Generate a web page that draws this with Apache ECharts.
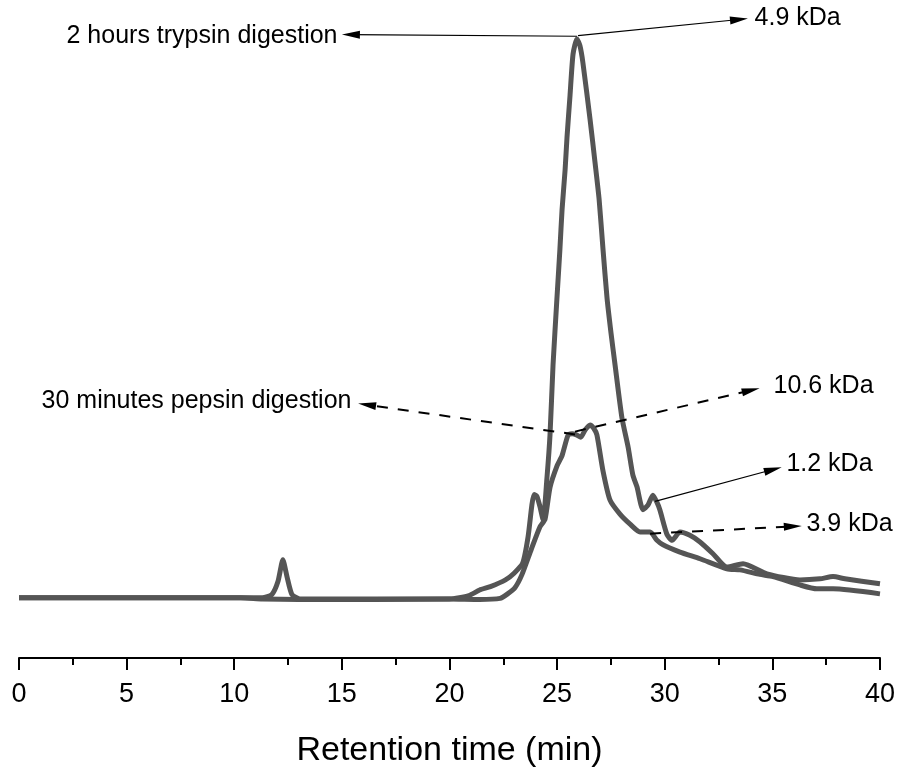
<!DOCTYPE html>
<html>
<head>
<meta charset="utf-8">
<script src="https://cdn.jsdelivr.net/npm/echarts@6/dist/echarts.min.js"></script>
<style>
  html, body { margin: 0; padding: 0; background: #fff; }
  #chart { width: 898px; height: 773px; }
</style>
</head>
<body>
<div id="chart"></div>
<script>
// retention time (min) / detector response (arbitrary units)
var trypsinTime = [0, 10.3, 11.3, 13.0, 20.0, 20.9, 21.4, 21.9, 22.6, 23.0, 23.4, 23.65, 23.83, 23.93, 24.06, 24.2, 24.35,
  24.53, 24.67, 24.81, 24.99, 25.13, 25.23, 25.37, 25.46, 25.6, 25.74, 25.92, 26.06, 26.2, 26.53, 26.76, 26.95,
  27.13, 27.32, 27.5, 27.69, 28.01, 28.3, 28.52, 28.71, 28.99, 29.22, 29.45, 29.64, 29.78, 30.1, 30.34, 30.71, 31.17,
  31.64, 32.24, 32.89, 33.64, 34.75, 36.28, 37.21, 37.82, 38.37, 40];
var trypsinSignal = [-0.2, -0.2, -0.4, -0.5, -0.4, 0.2, 1.2, 1.8, 3.0, 4.2, 6.0, 10.7, 16.5, 18.3, 18.0, 16.2, 13.8,
  21.4, 29.0, 41.5, 53.4, 62.3, 69.4, 76.5, 82.4, 89.9, 97.3, 100, 98.8, 95.7, 85.6, 77.9, 71.3,
  62.4, 53.5, 47.4, 41.6, 32.1, 26.8, 21.8, 19.7, 15.6, 16.4, 18.2, 16.9, 15.5, 11.2, 10.1, 11.6, 11.0,
  9.8, 7.7, 5.3, 5.9, 4.1, 3.0, 3.2, 3.6, 3.2, 2.3];

var pepsinTime = [0, 11.3, 11.75, 12.03, 12.26, 12.45, 12.68, 13.05, 20.0, 21.4, 22.35, 22.7, 23.04, 23.37, 23.8, 24.2,
  24.44, 24.67, 25.0, 25.23, 25.51, 25.7, 25.9, 26.1, 26.3, 26.53, 26.7, 26.85, 27.13, 27.46, 27.92, 28.39, 28.85,
  29.32, 29.64, 29.92, 30.71, 31.64, 32.89, 33.5, 34.42, 35.03, 36.28, 37.07, 37.82, 40];
var pepsinSignal = [-0.2, -0.2, 0.4, 2.7, 6.6, 3.6, 0.4, -0.4, -0.4, -0.5, -0.3, 0.5, 1.6, 4.0, 8.5, 12.5,
  13.9, 19.6, 23.5, 25.3, 29.0, 29.2, 29.0, 28.6, 29.9, 30.8, 30.2, 29.0, 22.6, 17.3, 14.8, 13.0, 11.6,
  11.6, 10.1, 9.3, 8.0, 6.8, 5.0, 4.8, 4.0, 3.6, 2.1, 1.4, 1.4, 0.5];

var xTicks = [0, 5, 10, 15, 20, 25, 30, 35, 40];

function pairs(xs, ys) {
  return xs.map(function (x, i) { return [x, ys[i]]; });
}

function arrow(from, to, dashed) {
  return [
    { coord: from, lineStyle: { type: dashed ? [11, 10] : 'solid', width: dashed ? 2 : 1.2 } },
    { coord: to }
  ];
}

function note(text, at, side) {
  return {
    coord: at,
    label: { show: true, formatter: text, position: side, distance: 0 }
  };
}

var chart = echarts.init(document.getElementById('chart'));

var option = {
  backgroundColor: '#fff',
  animation: false,
  grid: { left: 19, right: 18, top: 0, bottom: 111 },
  xAxis: {
    type: 'value',
    min: 0,
    max: 40,
    interval: 5,
    name: 'Retention time (min)',
    nameLocation: 'middle',
    nameGap: 76,
    nameTextStyle: { fontSize: 34, color: '#000', fontFamily: 'Liberation Sans, Arial, sans-serif' },
    axisLine: { onZero: false, lineStyle: { color: '#000', width: 2 } },
    axisTick: { length: 12, lineStyle: { color: '#000', width: 2 } },
    minorTick: { show: true, splitNumber: 2, length: 7, lineStyle: { color: '#000', width: 2 } },
    splitLine: { show: false },
    axisLabel: {
      fontSize: 27, color: '#000', margin: 23, fontFamily: 'Liberation Sans, Arial, sans-serif',
      formatter: function (v) { return xTicks.indexOf(v) >= 0 ? String(v) : ''; }
    }
  },
  yAxis: { type: 'value', min: -11, max: 107, show: false },
  series: [
    {
      name: '2 hours trypsin digestion',
      type: 'line',
      data: pairs(trypsinTime, trypsinSignal),
      smooth: 0.2,
      symbol: 'none',
      lineStyle: { color: '#555', width: 5, join: 'round' },
      z: 2,
      markLine: {
        silent: true,
        symbol: ['none', 'triangle'],
        symbolSize: [8, 18],
        label: { show: false },
        lineStyle: { color: '#000' },
        data: [
          arrow([25.92, 100.5], [15.42, 100.8], false),
          arrow([25.97, 100.6], [33.45, 103.5], false),
          arrow([29.55, 17.1], [35.03, 22.8], false)
        ]
      },
      markPoint: {
        silent: true,
        symbol: 'circle',
        symbolSize: 1,
        itemStyle: { color: 'rgba(0,0,0,0)' },
        label: { color: '#000', fontSize: 25, fontFamily: 'Liberation Sans, Arial, sans-serif' },
        data: [
          note('2 hours trypsin digestion', [14.82, 100.6], 'left'),
          note('4.9 kDa', [34.15, 103.8], 'right'),
          note('1.2 kDa', [35.63, 23.8], 'right')
        ]
      }
    },
    {
      name: '30 minutes pepsin digestion',
      type: 'line',
      data: pairs(pepsinTime, pepsinSignal),
      smooth: 0.2,
      symbol: 'none',
      lineStyle: { color: '#555', width: 5, join: 'round' },
      z: 2,
      markLine: {
        silent: true,
        symbol: ['none', 'triangle'],
        symbolSize: [8, 18],
        label: { show: false },
        lineStyle: { color: '#000' },
        data: [
          arrow([25.83, 29.1], [16.17, 34.4], true),
          arrow([25.83, 29.6], [34.0, 37.0], true),
          arrow([29.32, 11.3], [35.95, 12.6], true)
        ]
      },
      markPoint: {
        silent: true,
        symbol: 'circle',
        symbolSize: 1,
        itemStyle: { color: 'rgba(0,0,0,0)' },
        label: { color: '#000', fontSize: 25, fontFamily: 'Liberation Sans, Arial, sans-serif' },
        data: [
          note('30 minutes pepsin digestion', [15.47, 35.0], 'left'),
          note('10.6 kDa', [35.03, 37.8], 'right'),
          note('3.9 kDa', [36.56, 13.1], 'right')
        ]
      }
    }
  ]
};

chart.setOption(option);
</script>
</body>
</html>
